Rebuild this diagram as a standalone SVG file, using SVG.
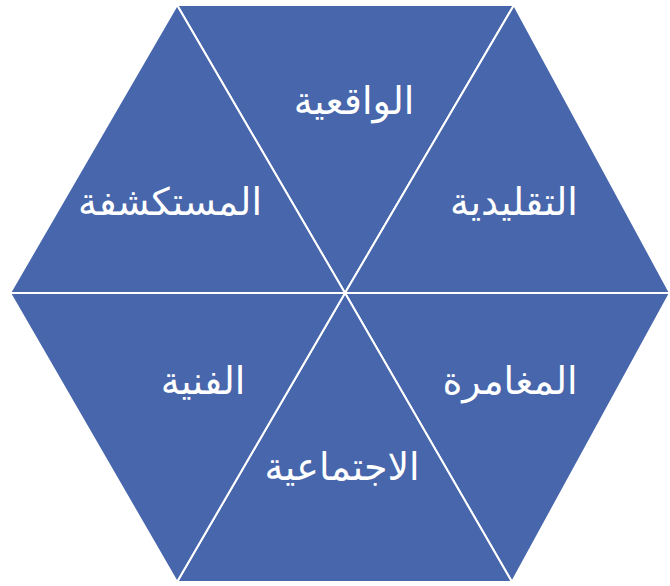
<svg xmlns="http://www.w3.org/2000/svg" width="670" height="586" viewBox="0 0 670 586">
<style>
.tri{fill:#4766ac;stroke:#ffffff;stroke-width:2;stroke-linejoin:miter}
.lbl{font-family:"DejaVu Sans",sans-serif;font-size:38px;fill:#ffffff;text-anchor:middle}
</style>
<rect width="670" height="586" fill="#ffffff"/>
<g id="connectors"></g>
<g id="n-top"><polygon class="tri" points="177,5 514,5 345,293"/><text class="lbl" x="354" y="114" direction="rtl">الواقعية</text></g>
<g id="n-topright"><polygon class="tri" points="514,5 670,293 345,293"/><text class="lbl" x="514" y="215" direction="rtl">التقليدية</text></g>
<g id="n-botright"><polygon class="tri" points="670,293 512,582 345,293"/><text class="lbl" x="510" y="394" direction="rtl">المغامرة</text></g>
<g id="n-bottom"><polygon class="tri" points="512,582 177,582 345,293"/><text class="lbl" x="342" y="480" direction="rtl">الاجتماعية</text></g>
<g id="n-botleft"><polygon class="tri" points="177,582 10,293 345,293"/><text class="lbl" x="203" y="394" direction="rtl">الفنية</text></g>
<g id="n-topleft"><polygon class="tri" points="10,293 177,5 345,293"/><text class="lbl" x="170" y="215" direction="rtl">المستكشفة</text></g>
</svg>
